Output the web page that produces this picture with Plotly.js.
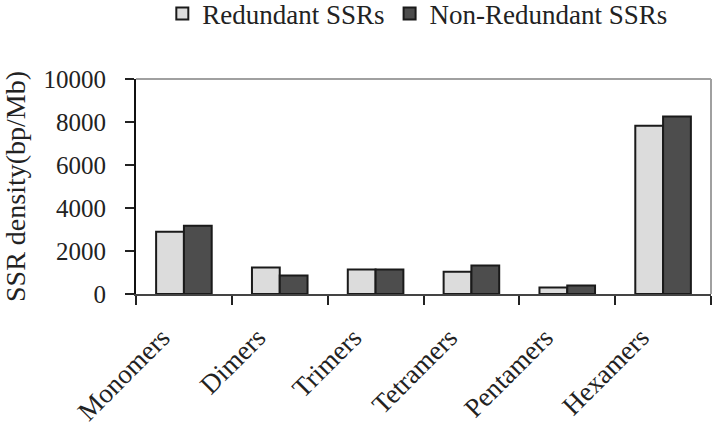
<!DOCTYPE html>
<html>
<head>
<meta charset="utf-8">
<script src="https://cdn.plot.ly/plotly-3.0.1.min.js"></script>
<style>
  html, body { margin: 0; padding: 0; background: #fff; }
  #chart { width: 713px; height: 424px; }
</style>
</head>
<body>
<div id="chart"></div>
<script>
// --- Data ---
const categories = ['Monomers', 'Dimers', 'Trimers', 'Tetramers', 'Pentamers', 'Hexamers'];
const redundant = [2900, 1230, 1140, 1040, 300, 7830];
const nonRedundant = [3180, 860, 1140, 1320, 390, 8250];
const yTicks = [0, 2000, 4000, 6000, 8000, 10000];
const yTickText = ['0', '2000', '4000', '6000', '8000', '10000'];

const serif = 'Liberation Serif, Times New Roman, serif';

const traces = [
    {
        type: 'bar',
        name: 'Redundant SSRs',
        x: categories,
        y: redundant,
        marker: { color: '#dcdcdc', line: { color: '#1a1a1a', width: 2 } }
    },
    {
        type: 'bar',
        name: 'Non-Redundant SSRs',
        x: categories,
        y: nonRedundant,
        marker: { color: '#4d4d4d', line: { color: '#1a1a1a', width: 2 } }
    }
];

const layout = {
    width: 713,
    height: 424,
    margin: { l: 136, r: 2, t: 79, b: 130 },
    paper_bgcolor: '#fff',
    plot_bgcolor: '#fff',
    font: { family: serif, color: '#222', size: 24 },
    barmode: 'group',
    bargap: 0.42,
    bargroupgap: 0,
    showlegend: true,
    legend: {
        orientation: 'h',
        xref: 'container', yref: 'container',
        x: 0.586, y: 0.967,
        xanchor: 'center', yanchor: 'middle',
        font: { family: serif, size: 27, color: '#222' },
        itemwidth: 30,
        tracegroupgap: 0
    },
    xaxis: {
        type: 'category',
        showline: true,
        linecolor: '#444',
        linewidth: 2,
        ticks: 'outside',
        tickson: 'boundaries',
        ticklen: 9,
        tickwidth: 2,
        tickcolor: '#222',
        tickangle: -45,
        ticklabelshift: -22,
        ticklabelstandoff: 15,
        tickfont: { family: serif, size: 27, color: '#222' },
        showgrid: false,
        zeroline: false,
        automargin: false
    },
    yaxis: {
        range: [0, 10000],
        tickvals: yTicks,
        ticktext: yTickText,
        showline: true,
        linecolor: '#111',
        linewidth: 2,
        ticks: 'outside',
        ticklen: 9,
        tickwidth: 2,
        tickcolor: '#222',
        ticklabelstandoff: 14,
        tickfont: { family: serif, size: 25, color: '#222' },
        showgrid: false,
        zeroline: false,
        automargin: false,
        title: {
            text: 'SSR density(bp/Mb)',
            font: { family: serif, size: 28, color: '#222' },
            standoff: 17
        }
    },
    // light grey frame on top and right, as in the original
    shapes: [
        { type: 'line', xref: 'paper', yref: 'paper', x0: 0, x1: 1, y0: 1, y1: 1,
          line: { color: '#a0a0a0', width: 2 } },
        { type: 'line', xref: 'paper', yref: 'paper', x0: 1, x1: 1, y0: 0, y1: 1,
          line: { color: '#a0a0a0', width: 2 } }
    ]
};

Plotly.newPlot('chart', traces, layout, { displayModeBar: false, staticPlot: true });
</script>
</body>
</html>
